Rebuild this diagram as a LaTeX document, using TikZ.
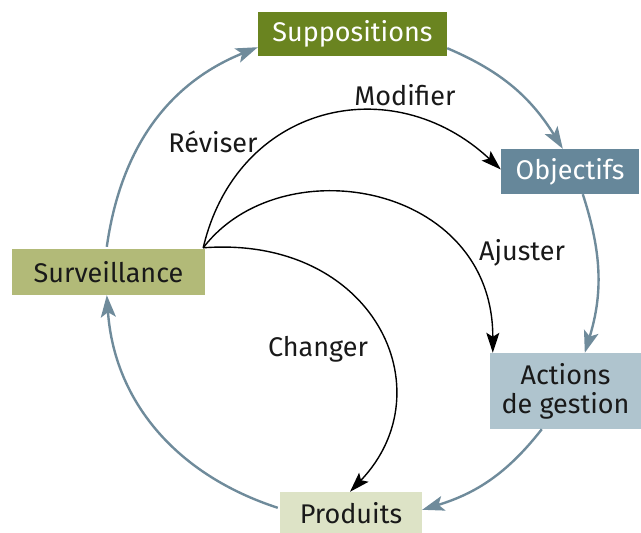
\documentclass[tikz,border=0pt]{standalone}
\usepackage{fontspec}
\setmainfont{Fira Sans}
\usetikzlibrary{arrows.meta,calc}
\definecolor{cSup}{RGB}{106,132,32}
\definecolor{cObj}{RGB}{102,135,154}
\definecolor{cAct}{RGB}{175,196,206}
\definecolor{cPro}{RGB}{221,227,198}
\definecolor{cSur}{RGB}{178,186,120}
\definecolor{cArr}{RGB}{111,139,155}
\definecolor{cTxt}{RGB}{25,25,25}
\tikzset{
  box/.style={rectangle, inner sep=0pt, align=center, font=\fontsize{27}{29}\selectfont},
  outer/.style={draw=cArr, line width=2.4pt, -{Stealth[length=22pt,width=15pt,inset=5pt]}},
  inner/.style={draw=black, line width=1.4pt, -{Stealth[length=20pt,width=13pt,inset=4pt]}},
  lab/.style={text=cTxt, font=\fontsize{27}{29}\selectfont, inner sep=0pt}
}
\begin{document}
\begin{tikzpicture}[x=1pt,y=-1pt]
\useasboundingbox (0,0) rectangle (641,533);
\node[box, fill=cSup, text=white, minimum width=189pt, minimum height=44pt] (sup) at (352.5,34) {\raisebox{-2pt}{Suppositions}};
\node[box, fill=cObj, text=white, minimum width=138pt, minimum height=45pt] (obj) at (570,171.5) {\raisebox{-1pt}{Objectifs}};
\node[box, fill=cAct, text=cTxt, minimum width=151pt, minimum height=76pt] (act) at (565.5,391) {Actions\\de gestion};
\node[box, fill=cPro, text=cTxt, minimum width=142pt, minimum height=42pt] (pro) at (351,513) {Produits};
\node[box, fill=cSur, text=cTxt, minimum width=193pt, minimum height=46pt] (sur) at (108.5,272) {Surveillance};

% outer cycle
\draw[outer] ($(sur.north west)+(95,-2)$) to[out=82,in=202] ($(sup.south west)+(0,-9)$);
\draw[outer] ($(sup.south east)+(0,-8)$) to[out=-23,in=122] ($(obj.north west)+(62,0)$);
\draw[outer] ($(obj.south west)+(82,0)$) to[out=-72,in=73] ($(act.north west)+(95,0)$);
\draw[outer] ($(act.south west)+(52,0)$) to[out=-128,in=17] ($(pro.north east)+(0,18)$);
\draw[outer] ($(pro.north west)+(-2,16)$) to[out=162,in=-86] ($(sur.south west)+(95,0)$);

% inner arrows
\coordinate (o) at ($(sur.north east)+(-2,-1)$);
\draw[inner] (o) .. controls (237,104) and (392,68) .. ($(obj.west)+(0,-2)$);
\draw[inner] (o) .. controls (281,146) and (493,183) .. ($(act.north west)+(3,0)$);
\draw[inner] (o) .. controls (373,235) and (447,390) .. ($(pro.north)+(-1,0)$);

% labels
\node[lab] (rev) at (213,142) {Réviser};
\node[lab] (mod) at (405,95) {Modifier};
\node[lab] (aju) at (522,253) {Ajuster};
\node[lab] (cha) at (318,349) {Changer};
\end{tikzpicture}
\end{document}
